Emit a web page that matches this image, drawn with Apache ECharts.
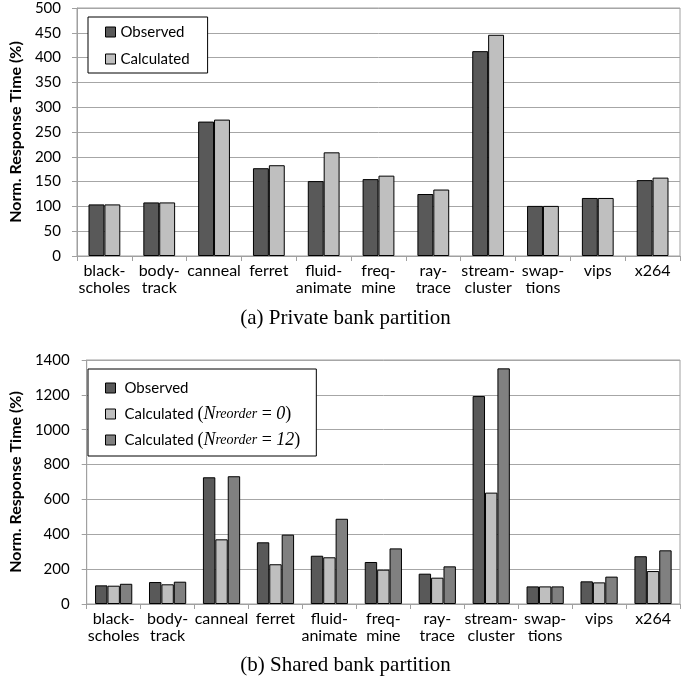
<!DOCTYPE html>
<html><head><meta charset="utf-8">
<script src="https://cdn.jsdelivr.net/npm/echarts@6/dist/echarts.min.js"></script>
<style>html,body{margin:0;padding:0;background:#fff}#c{width:691px;height:679px}</style>
</head><body><div id="c"></div>
<script>
const categories = ['black-\nscholes','body-\ntrack','canneal','ferret','fluid-\nanimate','freq-\nmine','ray-\ntrace','stream-\ncluster','swap-\ntions','vips','x264'];
// (a) Private bank partition
const privObserved   = [104, 108, 271, 177, 151, 155, 125, 413, 101, 117, 153];
const privCalculated = [104, 108, 275, 183, 209, 162, 134, 446, 101, 117, 158];
// (b) Shared bank partition
const sharedObserved = [107, 126, 727, 354, 277, 241, 174, 1193, 101, 130, 274];
const sharedCalc0    = [105, 113, 371, 228, 268, 197, 151, 639, 101, 124, 189];
const sharedCalc12   = [116, 128, 733, 398, 489, 319, 216, 1352, 101, 157, 308];
const captionA = '(a) Private bank partition';
const captionB = '(b) Shared bank partition';
const yName = 'Norm. Response Time (%)';

const C_DARK = '#595959', C_LIGHT = '#bfbfbf', C_MID = '#808080';
const SANS = 'Lato';
const axisGray = '#a0a0a0';

function xAx(gi){
  return {type:'category', gridIndex:gi, data:categories,
    axisLine:{lineStyle:{color:axisGray}},
    axisTick:{show:true, alignWithLabel:false, length:5, lineStyle:{color:axisGray}},
    axisLabel:{color:'#000', fontFamily:SANS, fontSize:16, lineHeight:17, margin:6, interval:0}};
}
function yAx(gi, max, interval){
  return {type:'value', gridIndex:gi, min:0, max:max, interval:interval,
    name:yName, nameLocation:'middle', nameGap: gi===0?45:49,
    nameTextStyle:{fontFamily:SANS, fontWeight:'bold', fontSize:16, color:'#000'},
    axisLine:{show:true, lineStyle:{color:axisGray}},
    axisTick:{show:true, length:5, lineStyle:{color:axisGray}},
    splitLine:{lineStyle:{color:'#a6a6a6'}},
    axisLabel:{color:'#000', fontFamily:SANS, fontSize:15, margin:gi===0?16:17,
      formatter:function(v){return String(v);}}};
}
function bar(name, data, color, gi, gap){
  return {type:'bar', name:name, data:data, xAxisIndex:gi, yAxisIndex:gi,
    barGap:'0%', barCategoryGap:gap,
    itemStyle:{color:color, borderColor:'#000', borderWidth:1}};
}

const richLeg = {
  s:{fontFamily:SANS, fontSize:15, color:'#000'},
  p:{fontFamily:'Liberation Serif', fontSize:18, color:'#000'},
  n:{fontFamily:'Liberation Serif', fontStyle:'italic', fontSize:18, color:'#000'},
  r:{fontFamily:'Liberation Serif', fontStyle:'italic', fontSize:14, color:'#000'}
};
const L0 = 'Calculated (Nreorder = 0)';
const L12 = 'Calculated (Nreorder = 12)';

const chart = echarts.init(document.getElementById('c'));
chart.setOption({
  animation:false,
  backgroundColor:'#fff',
  title:[
    {text:captionA, left:'center', top:303, textStyle:{fontFamily:'Liberation Serif', fontWeight:'normal', fontSize:21, color:'#000'}},
    {text:captionB, left:'center', top:650, textStyle:{fontFamily:'Liberation Serif', fontWeight:'normal', fontSize:21, color:'#000'}}
  ],
  grid:[
    {left:73, right:11, top:8, height:248, show:true, borderColor:axisGray, borderWidth:1},
    {left:77, right:11, top:360, height:244, show:true, borderColor:axisGray, borderWidth:1}
  ],
  xAxis:[xAx(0), xAx(1)],
  yAxis:[yAx(0,500,50), yAx(1,1400,200)],
  legend:[
    {data:['Observed','Calculated'], orient:'vertical', left:88, top:17,
     padding:[7,18,6,17], itemGap:11, itemWidth:10, itemHeight:10, icon:'rect',
     borderColor:'#000', borderWidth:1, backgroundColor:'#fff', selectedMode:false,
     textStyle:{fontFamily:SANS, fontSize:15, color:'#000', lineHeight:16, padding:[0,0,0,0]},
     itemStyle:{borderColor:'#000', borderWidth:1}},
    {data:['Observed ', L0, L12], orient:'vertical', left:88, top:369,
     padding:[10,16,7,17], itemGap:8, itemWidth:10, itemHeight:10, icon:'rect',
     borderColor:'#000', borderWidth:1, backgroundColor:'#fff', selectedMode:false,
     formatter:function(n){
       if(n===L0) return '{s|Calculated }{p|(}{n|N}{r|reorder}{p| = }{n|0}{p|)}';
       if(n===L12) return '{s|Calculated }{p|(}{n|N}{r|reorder}{p| = }{n|12}{p|)}';
       return '{s|Observed}';
     },
     textStyle:{fontFamily:SANS, fontSize:15, color:'#000', lineHeight:18, padding:[0,0,0,4], rich:richLeg},
     itemStyle:{borderColor:'#000', borderWidth:1}}
  ],
  series:[
    bar('Observed', privObserved, C_DARK, 0, '42%'),
    bar('Calculated', privCalculated, C_LIGHT, 0, '42%'),
    bar('Observed ', sharedObserved, C_DARK, 1, '31%'),
    bar(L0, sharedCalc0, C_LIGHT, 1, '31%'),
    bar(L12, sharedCalc12, C_MID, 1, '31%')
  ]
});
</script></body></html>
